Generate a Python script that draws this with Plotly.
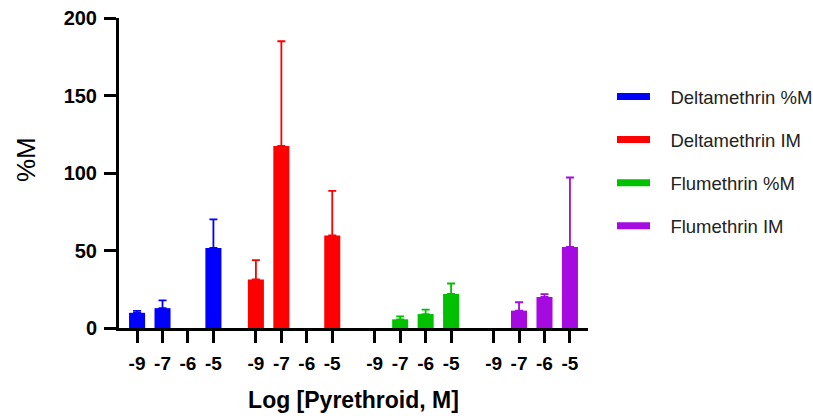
import plotly.graph_objects as go

series_names = ["Deltamethrin %M", "Deltamethrin IM", "Flumethrin %M", "Flumethrin IM"]
dose_labels = ["-9", "-7", "-6", "-5"]

delta_pm = [9.8, 12.8, None, 51.6]
delta_pm_err = [1.2, 5.0, None, 18.5]
delta_im = [31.3, 117.5, None, 59.7]
delta_im_err = [12.5, 67.5, None, 28.8]
flu_pm = [None, 5.6, 9.0, 22.0]
flu_pm_err = [None, 1.9, 2.9, 6.7]
flu_im = [None, 11.2, 20.0, 52.3]
flu_im_err = [None, 5.4, 1.9, 44.8]

values = [delta_pm, delta_im, flu_pm, flu_im]
errors = [delta_pm_err, delta_im_err, flu_pm_err, flu_im_err]
colors = ["#0000FF", "#FF0000", "#00C000", "#A50BE0"]

GROUP_STRIDE = 4.67
fig = go.Figure()
tickvals, ticktext = [], []
for gi, (name, vals, errs, col) in enumerate(zip(series_names, values, errors, colors)):
    xs = [gi * GROUP_STRIDE + di for di in range(len(dose_labels))]
    tickvals += xs
    ticktext += dose_labels
    fig.add_trace(go.Bar(
        x=xs, y=vals, width=0.63, marker=dict(color=col, line=dict(width=0)),
        error_y=dict(type="data", symmetric=False, array=errs,
                     arrayminus=[0 if e is not None else None for e in errs],
                     color=col, thickness=1.8, width=4),
        showlegend=False, name=name, hoverinfo="y"))
    fig.add_trace(go.Scatter(
        x=[None], y=[None], mode="lines", line=dict(color=col, width=7),
        name="\u00a0\u00a0\u00a0" + name, legendgroup=name, showlegend=True))

fig.update_layout(
    width=813, height=416,
    margin=dict(l=119, r=225, t=18, b=88, autoexpand=False),
    plot_bgcolor="white", paper_bgcolor="white",
    barmode="overlay",
    font=dict(family="Liberation Sans, Arial, sans-serif", color="black"),
    legend=dict(x=(612 - 119) / 469, y=(328 - 78) / 310, xanchor="left", yanchor="top",
                font=dict(size=18.5, color="#222222"),
                tracegroupgap=16, itemwidth=33, bgcolor="rgba(0,0,0,0)"),
    xaxis=dict(range=[-0.71, 3 * GROUP_STRIDE + 3 + 0.71], tickmode="array",
               tickvals=tickvals, ticktext=ticktext, showgrid=False, zeroline=False,
               showline=True, linecolor="black", linewidth=3,
               ticks="outside", ticklen=12, tickwidth=3, tickcolor="black",
               ticklabelstandoff=4,
               tickfont=dict(size=19, weight="bold"),
               title=dict(text="Log [Pyrethroid, M]", font=dict(size=23, weight="bold"), standoff=20)),
    yaxis=dict(range=[0, 200], tickvals=[0, 50, 100, 150, 200], showgrid=False, zeroline=False,
               showline=True, linecolor="black", linewidth=3,
               ticks="outside", ticklen=12, tickwidth=3, tickcolor="black",
               ticklabelstandoff=3,
               tickfont=dict(size=20, weight="bold")),
    annotations=[dict(text="%M", xref="paper", yref="paper", x=-0.198, y=0.542,
                      textangle=-90, showarrow=False, font=dict(size=26, color="black"),
                      xanchor="center", yanchor="middle")],
)

fig.write_html("out.html")
